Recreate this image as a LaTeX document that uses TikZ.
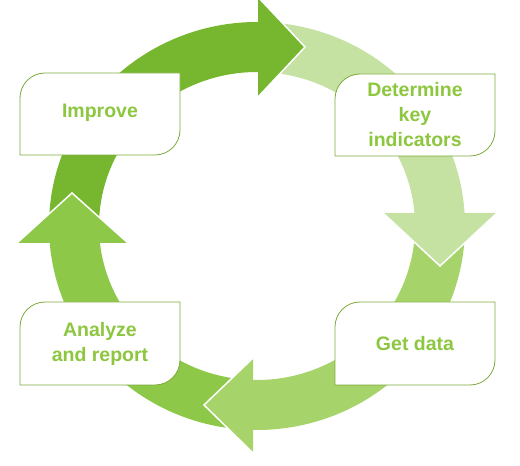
\documentclass[tikz,border=0pt]{standalone}
\usepackage{fontspec}
\setmainfont{Liberation Sans}
\usepackage{tikz}
\usetikzlibrary{calc}
\definecolor{darkcycle}{RGB}{119,183,48}
\definecolor{lightcycle}{RGB}{197,226,163}
\definecolor{midcycle}{RGB}{166,212,106}
\definecolor{leafcycle}{RGB}{141,200,72}
\definecolor{stagegreen}{RGB}{141,198,63}
\definecolor{boxolive}{RGB}{125,170,60}

\tikzset{
  stagetext/.style={font=\fontsize{19.5}{25}\selectfont\bfseries, text=stagegreen, align=center},
  stageline/.style={draw=boxolive, line width=0.8pt, fill=white},
  headedge/.style={draw=white, line width=1.5pt}
}

\begin{document}
\begin{tikzpicture}[x=1pt,y=1pt]
  \useasboundingbox (0,0) rectangle (520,466);
  \clip (0,0) rectangle (520,466);
  \coordinate (C) at (257,240);

  % Ring segments
  \begin{scope}[shift={(C)}]
    \fill[darkcycle] (181:208 and 204) arc[start angle=181, end angle=88, x radius=208, y radius=204]
      -- (88:158 and 154) arc[start angle=88, end angle=181, x radius=158, y radius=154] -- cycle;
    \fill[lightcycle] (86:208 and 204) arc[start angle=86, end angle=2, x radius=208, y radius=204]
      -- (2:158 and 154) arc[start angle=2, end angle=86, x radius=158, y radius=154] -- cycle;
    \fill[midcycle] (0:208 and 204) arc[start angle=0, end angle=-93, x radius=208, y radius=204]
      -- (-93:158 and 154) arc[start angle=-93, end angle=0, x radius=158, y radius=154] -- cycle;
    \fill[leafcycle] (265:208 and 204) arc[start angle=265, end angle=183.5, x radius=208, y radius=204]
      -- (183.5:158 and 154) arc[start angle=183.5, end angle=265, x radius=158, y radius=154] -- cycle;
  \end{scope}

  % Heads
  \fill[darkcycle] (258,469) -- (305,419) -- (258,369) -- cycle;
  \draw[headedge] (258,469) -- (305,419) -- (258,369);
  \fill[lightcycle] (383,253) -- (440,200) -- (497,253) -- cycle;
  \draw[headedge] (383,253) -- (440,200) -- (497,253);
  \fill[midcycle] (253,108) -- (204,61) -- (253,13) -- cycle;
  \draw[headedge] (253,108) -- (204,61) -- (253,13);
  \fill[leafcycle] (17,223) -- (72,273) -- (128,223) -- cycle;
  \draw[headedge] (17,223) -- (72,273) -- (128,223);

  % Stage boxes
  \draw[stageline] (20,311) -- (20,368) arc[start angle=180, end angle=90, radius=25]
    -- (180,393) -- (180,336) arc[start angle=0, end angle=-90, radius=25] -- cycle;
  \draw[stageline] (335,310) -- (335,367) arc[start angle=180, end angle=90, radius=25]
    -- (495,392) -- (495,335) arc[start angle=0, end angle=-90, radius=25] -- cycle;
  \draw[stageline] (335,81) -- (335,139) arc[start angle=180, end angle=90, radius=25]
    -- (495,164) -- (495,106) arc[start angle=0, end angle=-90, radius=25] -- cycle;
  \draw[stageline] (20,81) -- (20,139) arc[start angle=180, end angle=90, radius=25]
    -- (180,164) -- (180,106) arc[start angle=0, end angle=-90, radius=25] -- cycle;

  % Labels
  \node[stagetext] (improve) at (100,353) {Improve};
  \node[stagetext] (determine) at (415,351) {Determine\\key\\indicators};
  \node[stagetext] (getdata) at (415,122) {Get data};
  \node[stagetext] (analyze) at (100,122) {Analyze\\and report};
\end{tikzpicture}
\end{document}
